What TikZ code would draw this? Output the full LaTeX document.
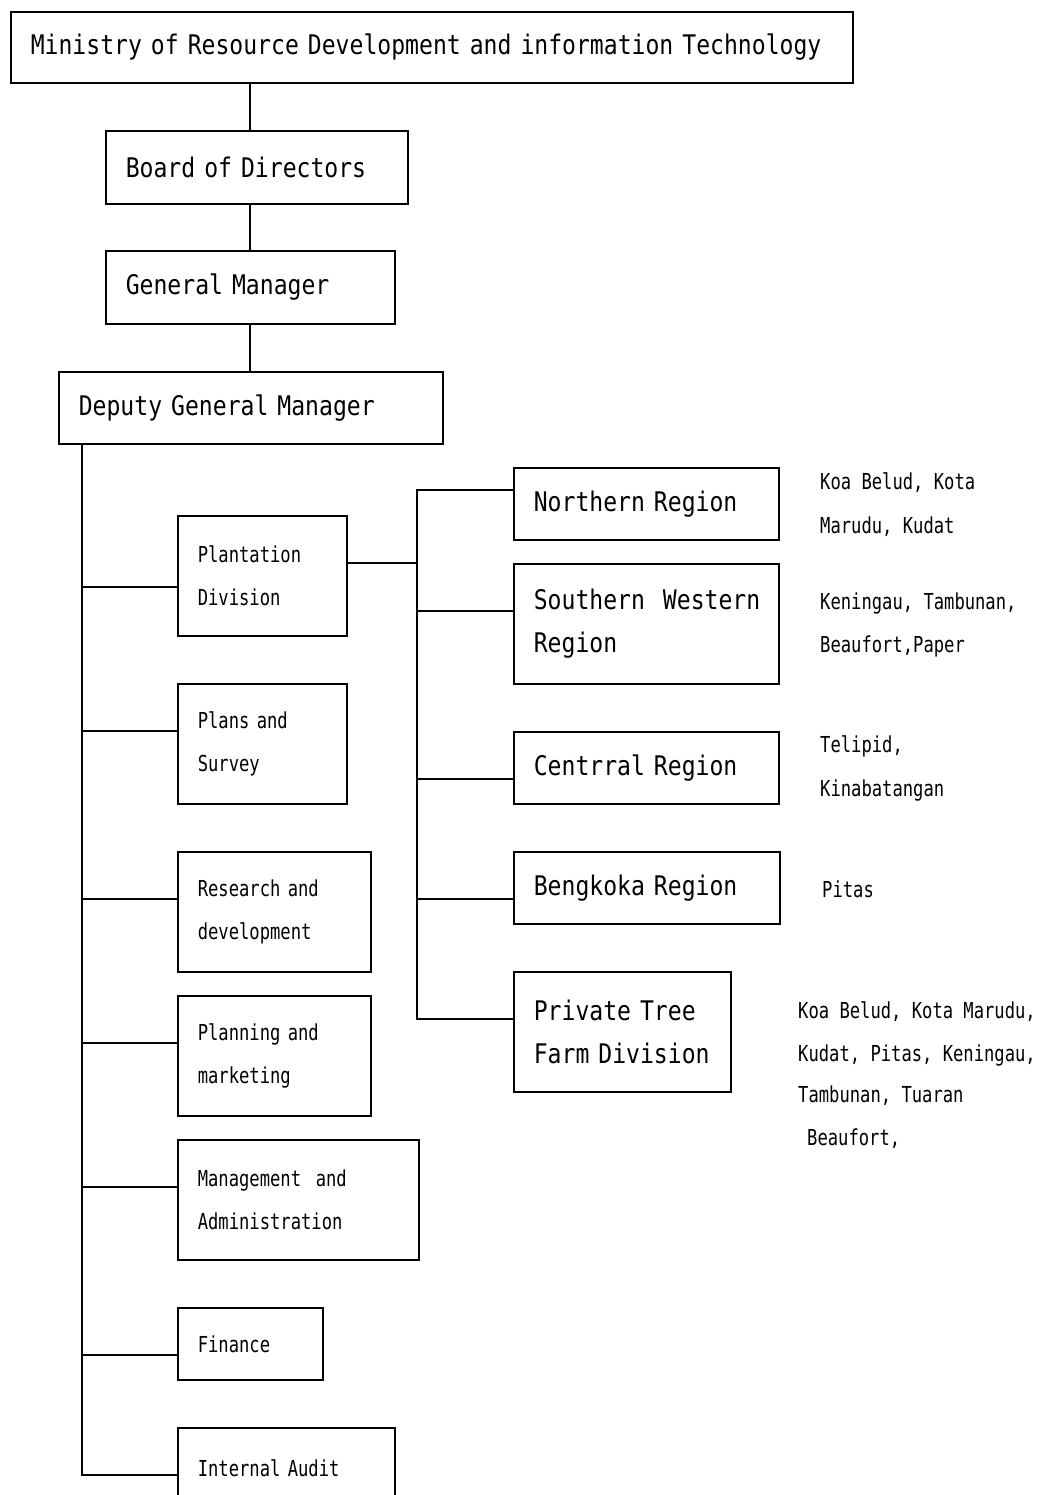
\documentclass[tikz,border=0pt]{standalone}
\usepackage{fontspec}
\usetikzlibrary{calc}
\newfontfamily\orgfontB[FakeStretch=0.855]{DejaVu Sans Mono}
\newfontfamily\orgfontS[FakeStretch=0.78]{DejaVu Sans Mono}
\newcommand\bigtxt{\orgfontB\fontsize{27}{43}\selectfont}
\newcommand\smalltxt{\orgfontS\fontsize{22}{43}\selectfont}
% name, x1, y1, x2, y2, font, text
\newcommand\orgbox[7]{%
  \node[orgb, text width=#4-#2-40, minimum height=#5-#3, font=#6, anchor=north west] (#1) at (#2,#3) {#7};
  \coordinate (#1-in) at ($(#1.north west)+(0,48)$);}
\begin{document}
\begin{tikzpicture}[x=1pt, y=-1pt,
  orgb/.style={draw, line width=1.6pt, inner xsep=20pt, inner ysep=0pt, align=left},
  link/.style={line width=1.8pt},
  note/.style={anchor=west, inner sep=0pt, font=\smalltxt, text height=16pt, text depth=4pt}]
\useasboundingbox (0,0) rectangle (1037,1495);
\clip (0,0) rectangle (1037,1495);
\fill[white] (0,0) rectangle (1037,1495);

\orgbox{ministry}{10}{11}{852}{82}{\bigtxt}{Ministry of Resource Development and information Technology}
\orgbox{board}{105}{130}{407}{203}{\bigtxt}{Board of Directors}
\orgbox{gm}{105}{250}{394}{323}{\bigtxt}{General Manager}
\orgbox{deputy}{58}{371}{442}{443}{\bigtxt}{Deputy General Manager}

\orgbox{plant}{177}{515}{346}{635}{\smalltxt}{Plantation\\Division}
\orgbox{plans}{177}{683}{346}{803}{\smalltxt}{Plans and\\Survey}
\orgbox{research}{177}{851}{370}{971}{\smalltxt}{Research and\\development}
\orgbox{planning}{177}{995}{370}{1115}{\smalltxt}{Planning and\\marketing}
\orgbox{mgmt}{177}{1139}{418}{1259}{\smalltxt}{\mbox{Management~~and}\\Administration}
\orgbox{finance}{177}{1307}{322}{1379}{\smalltxt}{Finance}
\orgbox{audit}{177}{1427}{394}{1507}{\smalltxt}{Internal Audit}

\orgbox{north}{513}{467}{778}{539}{\bigtxt}{Northern Region}
\orgbox{south}{513}{563}{778}{683}{\bigtxt}{\mbox{Southern~~Western}\\Region}
\orgbox{central}{513}{731}{778}{803}{\bigtxt}{Centrral Region}
\orgbox{beng}{513}{851}{779}{923}{\bigtxt}{Bengkoka Region}
\orgbox{private}{513}{971}{730}{1091}{\bigtxt}{Private Tree\\Farm Division}

\coordinate (plant-l) at ($(plant.north west)+(0,72)$);
\coordinate (plant-r) at ($(plant.north east)+(0,48)$);
\coordinate (north-l) at ($(north.north west)+(0,23)$);
\coordinate (trunk) at (82,0);
\coordinate (rtrunk) at (417,0);

% top chain
\draw[link] (gm.north |- ministry.south) -- (gm.north |- board.north);
\draw[link] (gm.north |- board.south) -- (gm.north);
\draw[link] (gm.south) -- (gm.south |- deputy.north);

% main trunk
\draw[link] (trunk |- deputy.south) -- (trunk |- audit-in) -- (audit-in);
\draw[link] (trunk |- plant-l) -- (plant-l);
\foreach \b in {plans,research,planning,mgmt,finance}
  \draw[link] (trunk |- \b-in) -- (\b-in);

% regional trunk
\draw[link] (plant-r) -- (rtrunk |- plant-r);
\draw[link] (north-l) -- (rtrunk |- north-l) -- (rtrunk |- private-in) -- (private-in);
\foreach \b in {south,central,beng}
  \draw[link] (rtrunk |- \b-in) -- (\b-in);

% notes
\node[note] (n1a) at (820,483) {Koa Belud, Kota};
\node[note] (n1b) at (820,527) {Marudu, Kudat};
\node[note] (n2a) at (820,603) {Keningau, Tambunan,};
\node[note] (n2b) at (820,646) {Beaufort,Paper};
\node[note] (n3a) at (820,746) {Telipid,};
\node[note] (n3b) at (820,790) {Kinabatangan};
\node[note] (n4a) at (822,891) {Pitas};
\node[note] (n5a) at (798,1012) {Koa Belud, Kota Marudu,};
\node[note] (n5b) at (798,1055) {Kudat, Pitas, Keningau,};
\node[note] (n5c) at (798,1096) {Tambunan, Tuaran};
\node[note] (n5d) at (807,1139) {Beaufort,};
\end{tikzpicture}
\end{document}
